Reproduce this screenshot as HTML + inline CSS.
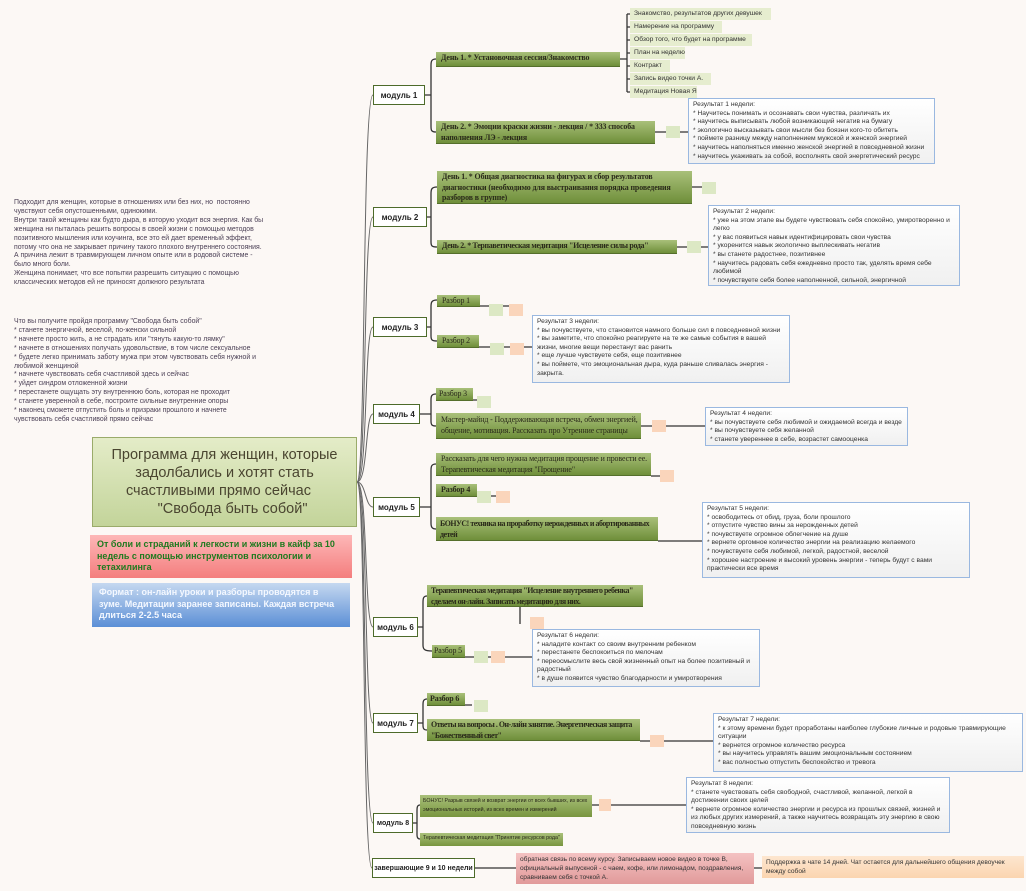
<!DOCTYPE html>
<html><head><meta charset="utf-8"><style>
body{margin:0;width:1026px;height:891px;background:#fcf8f5;position:relative;overflow:hidden;font-family:"Liberation Sans",sans-serif;}
.a{position:absolute;box-sizing:border-box;}
.m{background:#fff;border:1.5px solid #4d6b2a;font:bold 8px "Liberation Sans",sans-serif;color:#222;display:flex;align-items:center;justify-content:center;white-space:nowrap;}
.g{background:linear-gradient(#a9c07a,#6f8f3a);border-bottom:1.5px solid #556f2c;font:bold 7.9px "Liberation Serif",serif;color:#2a2a1a;padding:1px 5px;line-height:10.5px;white-space:nowrap;overflow:hidden;letter-spacing:-0.1px}
.n{font-weight:normal}
.k{letter-spacing:-0.45px;padding-left:4px}
.gs{background:linear-gradient(#a9c07a,#78953f);font:5.6px "Liberation Sans",sans-serif;color:#2a2a1a;padding:2px 4px;line-height:9px;white-space:nowrap;overflow:hidden}
.l{background:#e6edcf;font:6.7px "Liberation Sans",sans-serif;color:#333;padding:0 4px;height:12px;line-height:12px;white-space:nowrap;}
.r{background:linear-gradient(#fff,#f0f0f0);border:1px solid #9ab8e0;font:6.7px "Liberation Sans",sans-serif;color:#333;padding:2px 4px;line-height:8.6px;overflow:hidden}
.sq{width:14px;height:12px;background:#dce8c4;}
.so{width:14px;height:12px;background:#fad5bb;}
.t{font:6.9px "Liberation Sans",sans-serif;color:#4a3f55;line-height:8.9px;}
</style></head><body>
<svg class="a" style="left:0;top:0" width="1026" height="891">
<g fill="none" stroke="#666" stroke-width="1">
<path d="M357,482 C366,482 362,95 373,95"/><path d="M357,482 C367,482 363,217 373,217"/><path d="M357,482 C368,482 364,327 373,327"/><path d="M357,482 C368,482 365,414 373,414"/><path d="M357,482 C366,482 365,507 373,507"/><path d="M357,482 C368,482 364,627 373,627"/><path d="M357,482 C368,482 364,723 373,723"/><path d="M357,482 C367,482 363,823 373,823"/><path d="M357,482 C366,482 362,868 372,868"/>
</g>
<g fill="none" stroke="#333" stroke-width="1.3">
<path d="M425,95 H431 M436,59 C431,59 431,62 431,66 V126 C431,130 431,132 436,132"/>
<path d="M427,217 H431 M437,187 C431,187 431,190 431,194 V242 C431,246 432,247 437,247"/>
<path d="M427,327 H431 M437,300 C431,300 431,303 431,307 V336 C431,340 432,341 437,341"/>
<path d="M420,414 H431 M436,394 C431,394 431,397 431,400 V421 C431,425 432,426 436,426"/>
<path d="M420,507 H431 M436,464 C431,464 431,467 431,471 V523 C431,527 432,529 436,529"/>
<path d="M418,627 H423 M427,596 C423,596 423,599 423,603 V645 C423,649 424,651 432,651"/>
<path d="M418,723 H423 M427,699 C423,699 423,702 423,705 V725 C423,729 424,730 427,730"/>
<path d="M413,823 H417 M420,805 C417,805 417,808 417,811 V835 C417,838 418,839 420,839"/>
<path d="M620,59 H627 M627,14 V92 M627,14H630 M627,27H630 M627,40H630 M627,53H630 M627,66H630 M627,79H630 M627,92H630"/>
<path d="M655,132 H688 M692,187 H702 M677,247 H708 M480,306 H510 M479,347 H532 M473,400 H480 M641,426 H705 M651,476 H660 M477,496 H505 M658,541 H702 M520,606 V624 M465,657 H532 M465,705 H472 M640,741 H713 M592,805 H686 M475,868 H516 M754,868 H762"/>
</g></svg>
<div class="a" style="left:92px;top:437px;width:265px;height:90px;background:linear-gradient(#e4ecc8,#c3d49a);border:1px solid #9aab6a;font:14.5px 'Liberation Sans',sans-serif;color:#4a4530;text-align:center;line-height:18px;padding-top:8px;white-space:nowrap">Программа для женщин, которые<br>задолбались и хотят стать<br>счастливыми прямо сейчас&nbsp;&nbsp;&nbsp;<br>&nbsp;&nbsp;&nbsp;&nbsp;"Свобода быть собой"</div>
<div class="a" style="left:90px;top:535px;width:262px;height:43px;background:linear-gradient(#fdb7b7,#f47e7e);font:bold 9px 'Liberation Sans',sans-serif;color:#1f7a1f;padding:4px 7px;line-height:11.5px;white-space:nowrap">От боли и страданий к легкости и жизни в кайф за 10<br>недель с помощью инструментов психологии и<br>тетахилинга</div>
<div class="a" style="left:92px;top:583px;width:258px;height:44px;background:linear-gradient(#c5d8f0,#5b8fd6);font:bold 9px 'Liberation Sans',sans-serif;color:#f4f8ff;padding:4px 7px;line-height:11.5px;white-space:nowrap">Формат : он-лайн уроки и разборы проводятся в<br>зуме. Медитации заранее записаны. Каждая встреча<br>длиться 2-2.5 часа</div>
<div class="a t" style="left:14px;top:199px;width:280px;white-space:nowrap">Подходит для женщин, которые в отношениях или без них, но&nbsp; постоянно<br>чувствуют себя опустошенными, одинокими.<br>Внутри такой женщины как будто дыра, в которую уходит вся энергия. Как бы<br>женщина ни пыталась решить вопросы в своей жизни с помощью методов<br>позитивного мышления или коучинга, все это ей дает временный эффект,<br>потому что она не закрывает причину такого плохого внутреннего состояния.<br>А причина лежит в травмирующем личном опыте или в родовой системе -<br>было много боли.<br>Женщина понимает, что все попытки разрешить ситуацию с помощью<br>классических методов ей не приносят должного результата</div>
<div class="a t" style="left:14px;top:318px;width:280px;white-space:nowrap">Что вы получите пройдя программу "Свобода быть собой"<br>* станете энергичной, веселой, по-женски сильной<br>* начнете просто жить, а не страдать или "тянуть какую-то лямку"<br>* начнете в отношениях получать удовольствие, в том числе сексуальное<br>* будете легко принимать заботу мужа при этом чувствовать себя нужной и<br>любимой женщиной<br>* начнете чувствовать себя счастливой здесь и сейчас<br>* уйдет синдром отложенной жизни<br>* перестанете ощущать эту внутреннюю боль, которая не проходит<br>* станете уверенной в себе, построите сильные внутренние опоры<br>* наконец сможете отпустить боль и призраки прошлого и начнете<br>чувствовать себя счастливой прямо сейчас</div>
<div class="a m" style="left:373px;top:85px;width:52px;height:20px">модуль 1</div>
<div class="a m" style="left:373px;top:207px;width:54px;height:20px">модуль 2</div>
<div class="a m" style="left:373px;top:317px;width:54px;height:20px">модуль 3</div>
<div class="a m" style="left:373px;top:404px;width:47px;height:20px">модуль 4</div>
<div class="a m" style="left:373px;top:497px;width:47px;height:20px">модуль 5</div>
<div class="a m" style="left:373px;top:617px;width:45px;height:20px">модуль 6</div>
<div class="a m" style="left:373px;top:713px;width:45px;height:20px">модуль 7</div>
<div class="a m" style="left:373px;top:813px;width:40px;height:20px;font-size:7px">модуль 8</div>
<div class="a m" style="left:372px;top:858px;width:103px;height:20px;font-size:7px">завершающие 9 и 10 недели</div>
<div class="a g" style="left:436px;top:52px;width:184px;height:15px">День 1. * Установочная сессия/Знакомство</div>
<div class="a g" style="left:436px;top:121px;width:219px;height:23px">День 2. * Эмоции краски жизни - лекция / * 333 способа<br>наполнения ЛЭ - лекция</div>
<div class="a g" style="left:437px;top:171px;width:255px;height:33px">День 1. * Общая диагностика на фигурах и сбор результатов<br>диагностики (необходимо для выстраивания порядка проведения<br>разборов в группе)</div>
<div class="a g" style="left:437px;top:240px;width:240px;height:14px;letter-spacing:-0.3px">День 2. * Терпаветическая медитация "Исцеление силы рода"</div>
<div class="a g n" style="left:437px;top:295px;width:43px;height:12px">Разбор 1</div>
<div class="a g n" style="left:437px;top:335px;width:42px;height:13px">Разбор 2</div>
<div class="a g n" style="left:436px;top:388px;width:37px;height:13px;padding:1px 3px">Разбор 3</div>
<div class="a g n" style="left:436px;top:413px;width:205px;height:26px;padding-top:2px">Мастер-майнд - Поддерживающая встреча, обмен энергией,<br>общение, мотивация. Рассказать про Утренние страницы</div>
<div class="a g n" style="left:436px;top:453px;width:215px;height:23px">Рассказать для чего нужна медитация прощение и провести ее.<br>Терапевтическая медитация "Прощение"</div>
<div class="a g" style="left:436px;top:484px;width:41px;height:13px">Разбор 4</div>
<div class="a g k" style="left:436px;top:517px;width:222px;height:24px;padding-top:2px">БОНУС! техника на проработку нерожденных и абортированных<br>детей</div>
<div class="a g k" style="left:427px;top:585px;width:216px;height:22px">Терапевтическая медитация "Исцеление внутреннего ребенка"<br>сделаем он-лайн. Записать медитацию для них.</div>
<div class="a g n" style="left:432px;top:645px;width:33px;height:13px;padding:1px 2px">Разбор 5</div>
<div class="a g" style="left:427px;top:693px;width:38px;height:13px;padding:1px 3px">Разбор 6</div>
<div class="a g k" style="left:427px;top:719px;width:213px;height:22px">Ответы на вопросы . Он-лайн занятие. Энергетическая защита<br>"Божественный свет"</div>
<div class="a gs" style="left:420px;top:795px;width:172px;height:22px;font-size:5.3px;padding:2px 3px">БОНУС! Разрыв связей и возврат энергии от всех бывших, из всех<br>эмоциональных историй, из всех времен и измерений</div>
<div class="a gs" style="left:420px;top:833px;width:143px;height:13px;padding:1px 3px;font-size:5.3px">Терапевтическая медитация "Принятие ресурсов рода"</div>
<div class="a l" style="left:630px;top:8px;width:141px">Знакомство, результатов других девушек</div>
<div class="a l" style="left:630px;top:21px;width:92px">Намерение на программу</div>
<div class="a l" style="left:630px;top:34px;width:122px">Обзор того, что будет на программе</div>
<div class="a l" style="left:630px;top:47px;width:55px">План на неделю</div>
<div class="a l" style="left:630px;top:60px;width:40px">Контракт</div>
<div class="a l" style="left:630px;top:73px;width:81px">Запись видео точки А.</div>
<div class="a l" style="left:630px;top:86px;width:67px">Медитация Новая Я</div>
<div class="a sq" style="left:666px;top:126px"></div>
<div class="a sq" style="left:702px;top:182px"></div>
<div class="a sq" style="left:687px;top:241px"></div>
<div class="a sq" style="left:489px;top:304px"></div><div class="a so" style="left:509px;top:304px"></div>
<div class="a sq" style="left:490px;top:343px"></div><div class="a so" style="left:510px;top:343px"></div>
<div class="a sq" style="left:477px;top:396px"></div>
<div class="a so" style="left:652px;top:420px"></div>
<div class="a so" style="left:660px;top:470px"></div>
<div class="a sq" style="left:477px;top:491px"></div><div class="a so" style="left:496px;top:491px"></div>
<div class="a so" style="left:530px;top:617px"></div>
<div class="a sq" style="left:474px;top:651px"></div><div class="a so" style="left:491px;top:651px"></div>
<div class="a sq" style="left:474px;top:700px"></div>
<div class="a so" style="left:650px;top:735px"></div>
<div class="a so" style="left:599px;top:799px;width:12px;height:12px"></div>
<div class="a r" style="left:688px;top:98px;width:247px;height:66px">Результат 1 недели:<br>* Научитесь понимать и осознавать свои чувства, различать их<br>* научитесь выписывать любой возникающий негатив на бумагу<br>* экологично высказывать свои мысли без боязни кого-то обитеть<br>* поймете разницу между наполнением мужской и женской энергией<br>* научитесь наполняться именно женской энергией в повседневной жизни<br>* научитесь укаживать за собой, восполнять свой энергетический ресурс</div>
<div class="a r" style="left:708px;top:205px;width:252px;height:81px">Результат 2 недели:<br>* уже на этом этапе вы будете чувствовать себя спокойно, умиротворенно и легко<br>* у вас появиться навык идентифицировать свои чувства<br>* укоренится навык экологично выплескивать негатив<br>* вы станете радостнее, позитивнее<br>* научитесь радовать себя ежедневно просто так, уделять время себе любимой<br>* почувствуете себя более наполненной, сильной, энергичной</div>
<div class="a r" style="left:532px;top:315px;width:258px;height:68px">Результат 3 недели:<br>* вы почувствуете, что становится намного больше сил в повседневной жизни<br>* вы заметите, что спокойно реагируете на те же самые события в вашей жизни, многие вещи перестанут вас ранить<br>* еще лучше чувствуете себя, еще позитивнее<br>* вы поймете, что эмоциональная дыра, куда раньше сливалась энергия - закрыта.</div>
<div class="a r" style="left:705px;top:407px;width:203px;height:39px">Результат 4 недели:<br>* вы почувствуете себя любимой и ожидаемой всегда и везде<br>* вы почувствуете себя желанной<br>* станете увереннее в себе, возрастет самооценка</div>
<div class="a r" style="left:702px;top:502px;width:268px;height:76px">Результат 5 недели:<br>* освободитесь от обид, груза, боли прошлого<br>* отпустите чувство вины за нерожденных детей<br>* почувствуете огромное облегчение на душе<br>* вернете оргомное количество энергии на реализацию желаемого<br>* почувствуете себя любимой, легкой, радостной, веселой<br>* хорошее настроение и высокий уровень энергии - теперь будут с вами практически все время</div>
<div class="a r" style="left:532px;top:629px;width:228px;height:58px">Результат 6 недели:<br>* наладите контакт со своим внутренним ребенком<br>* перестанете беспокоиться по мелочам<br>* переосмыслите весь свой жизненный опыт на более позитивный и радостный<br>* в душе появится чувство благодарности и умиротворения</div>
<div class="a r" style="left:713px;top:713px;width:310px;height:59px">Результат 7 недели:<br>* к этому времени будет проработаны наиболее глубокие личные и родовые травмирующие ситуации<br>* вернется огромное количество ресурса<br>* вы научитесь управлять вашим эмоциональным состоянием<br>* вас полностью отпустить беспокойство и тревога</div>
<div class="a r" style="left:686px;top:777px;width:264px;height:56px">Результат 8 недели:<br>* станете чувствовать себя свободной, счастливой, желанной, легкой в достижении своих целей<br>* вернете огромное количество энергии и ресурса из прошлых связей, жизней и из любых других измерений, а также научитесь возвращать эту энергию в свою повседневную жизнь</div>
<div class="a" style="left:516px;top:853px;width:238px;height:31px;background:linear-gradient(#f4c2c2,#e19a9a);font:6.6px 'Liberation Sans',sans-serif;color:#333;padding:2px 4px;line-height:9px;white-space:nowrap">обратная связь по всему курсу. Записываем новое видео в точке В,<br>официальный выпускной - с чаем, кофе, или лимонадом, поздравления,<br>сравниваем себя с точкой А.</div>
<div class="a" style="left:762px;top:856px;width:262px;height:22px;background:linear-gradient(#fde6cf,#fbd5b0);font:6.6px 'Liberation Sans',sans-serif;color:#333;padding:2px 4px;line-height:9px;white-space:nowrap">Поддержка в чате 14 дней. Чат остается для дальнейшего общения девоучек<br>между собой</div>
</body></html>
